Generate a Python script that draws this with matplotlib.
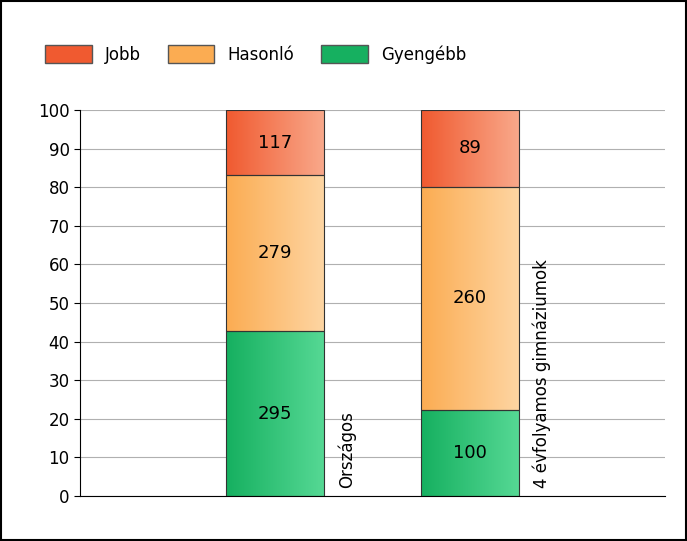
import matplotlib
matplotlib.use("Agg")
import matplotlib.pyplot as plt
import numpy as np
from matplotlib.patches import Rectangle
from matplotlib.colors import LinearSegmentedColormap

categories = ["Országos", "4 évfolyamos gimnáziumok"]
series = ["Jobb", "Hasonló", "Gyengébb"]
gyengebb = [295, 100]
hasonlo = [279, 260]
jobb = [117, 89]
yticks = list(range(0, 101, 10))

grad = {"Gyengébb": ("#16b060", "#55d894"),
        "Hasonló": ("#fbac52", "#fed5a2"),
        "Jobb": ("#f05a30", "#f9a88a")}

fig = plt.figure(figsize=(6.87, 5.41), dpi=100)
fig.patches.append(Rectangle((0.002, 0.002), 0.996, 0.996, transform=fig.transFigure,
                             fill=False, edgecolor="black", linewidth=1.5))
ax = fig.add_axes([80/687, 45/541, 585/687, 386/541])
ax.set_xlim(0, 3)
ax.set_ylim(0, 100)
ax.set_yticks(yticks)
ax.set_xticks([])
ax.yaxis.grid(True, color="#b0b0b0", linewidth=0.8)
ax.set_axisbelow(True)
for s in ["top", "right"]:
    ax.spines[s].set_visible(False)
ax.tick_params(axis="y", labelsize=12, length=4)

w = 0.5
for i, cat in enumerate(categories):
    x = i + 1
    vals = [("Gyengébb", gyengebb[i]), ("Hasonló", hasonlo[i]), ("Jobb", jobb[i])]
    tot = sum(v for _, v in vals)
    bottom = 0
    for name, v in vals:
        h = v / tot * 100
        cmap = LinearSegmentedColormap.from_list(name, grad[name])
        ax.imshow(np.linspace(0, 1, 100).reshape(1, -1), cmap=cmap, aspect="auto",
                  extent=(x - w/2, x + w/2, bottom, bottom + h), zorder=2)
        ax.add_patch(Rectangle((x - w/2, bottom), w, h, fill=False,
                               edgecolor="#333333", linewidth=0.8, zorder=3))
        ax.text(x, bottom + h/2, str(v), ha="center", va="center", fontsize=13, zorder=4)
        bottom += h
    ax.text(x + 0.37, 2, cat, rotation=90, ha="center", va="bottom", fontsize=12)
ax.set_xlim(0, 3)
ax.set_ylim(0, 100)

handles = [Rectangle((0, 0), 1, 1, facecolor=grad[n][0], edgecolor="#555555") for n in series]
fig.legend(handles, series, loc="upper left", bbox_to_anchor=(30/687, 1 - 30/541),
           ncol=3, frameon=False, fontsize=12, handlelength=2.8, handleheight=1.3,
           columnspacing=1.6)
fig.savefig("out.png", dpi=100)
